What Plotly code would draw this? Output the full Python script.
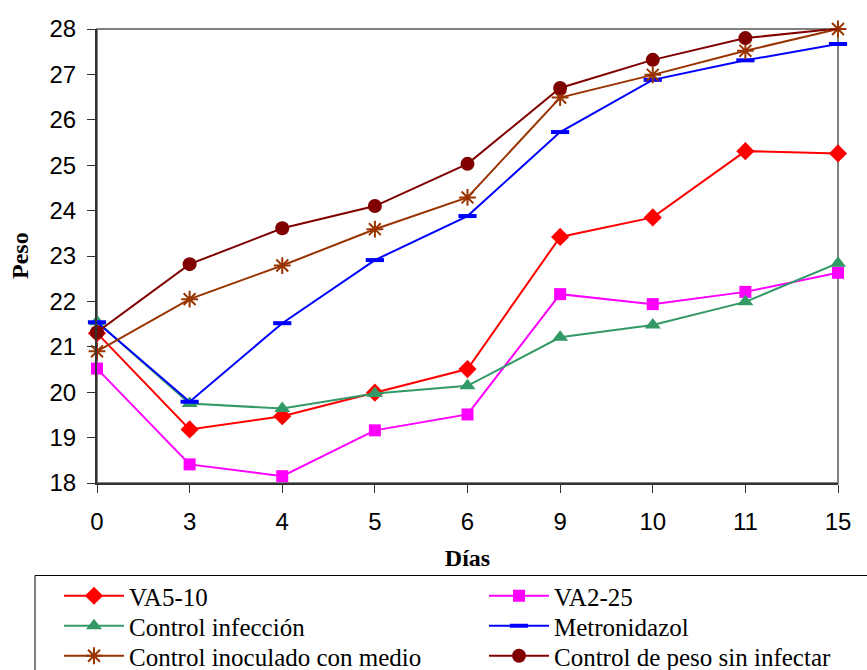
import plotly.graph_objects as go

# Días de muestreo (eje categórico)
dias = ["0", "3", "4", "5", "6", "9", "10", "11", "15"]

# Peso medio por grupo
va5_10 = [21.30, 19.18, 19.47, 19.99, 20.51, 23.42, 23.85, 25.31, 25.26]
va2_25 = [20.52, 18.41, 18.15, 19.16, 19.51, 22.16, 21.94, 22.21, 22.63]
control_infeccion = [21.55, 19.75, 19.64, 19.97, 20.14, 21.21, 21.48, 21.99, 22.84]
metronidazol = [21.54, 19.79, 21.52, 22.91, 23.88, 25.73, 26.88, 27.31, 27.67]
control_inoculado = [20.90, 22.05, 22.79, 23.59, 24.29, 26.49, 26.99, 27.52, 28.00]
control_sin_infectar = [21.32, 22.82, 23.61, 24.10, 25.03, 26.70, 27.32, 27.80, 28.01]

y_ticks = [18, 19, 20, 21, 22, 23, 24, 25, 26, 27, 28]

# nombre, valores, color, marcador
series = [
    ("VA5-10", va5_10, "#FF0000", dict(symbol="diamond", size=14)),
    ("VA2-25", va2_25, "#FF00FF", dict(symbol="square", size=12)),
    ("Control infección", control_infeccion, "#339966", dict(symbol="triangle-up", size=14)),
    ("Metronidazol", metronidazol, "#0000FF", dict(symbol="line-ew", size=13)),
    ("Control inoculado con medio", control_inoculado, "#993300", dict(symbol="asterisk", size=14)),
    ("Control de peso sin infectar", control_sin_infectar, "#800000", dict(symbol="circle", size=14)),
]

SERIF = "Liberation Serif"
SANS = "Liberation Sans"

# Cada entrada de la leyenda en su propia caja: dos columnas, tres filas
legend_cols_px = [59, 484]
legend_rows_px = [573, 603, 633]

fig = go.Figure()
legend_layouts = {}
for i, (name, vals, color, mk) in enumerate(series):
    leg_id = "legend" if i == 0 else f"legend{i + 1}"
    marker = dict(color=color, **mk)
    if mk["symbol"] in ("line-ew", "asterisk"):
        marker["line"] = dict(color=color, width=4 if mk["symbol"] == "line-ew" else 2)
    else:
        marker["line"] = dict(width=0)
    fig.add_trace(go.Scatter(
        x=dias, y=vals, name=name, mode="lines+markers", legend=leg_id,
        line=dict(color=color, width=2), marker=marker, cliponaxis=False,
    ))
    legend_layouts[leg_id] = dict(
        x=legend_cols_px[i % 2] / 867, y=1 - legend_rows_px[i // 2] / 670,
        orientation="v", xref="container", yref="container",
        xanchor="left", yanchor="top", itemwidth=60,
        font=dict(family=SERIF, size=25, color="black"),
        borderwidth=0, bgcolor="rgba(0,0,0,0)",
    )

# Marco gris superior y derecho del área de trazado
fig.add_shape(type="rect", xref="paper", yref="paper", x0=0, x1=1, y0=0, y1=1,
              line=dict(color="#808080", width=2), layer="below")

# Recuadro de la leyenda (se prolonga fuera de la figura)
fig.add_shape(type="rect", xref="paper", yref="paper",
              x0=(35 - 97) / 741, x1=1.2, y0=-0.6, y1=(483 - 575.5) / 454,
              line=dict(color="black", width=1), layer="above")

# Título del eje vertical
fig.add_annotation(
    text="<b>Peso</b>", xref="paper", yref="paper",
    x=(20 - 97) / 741, y=0.5, xanchor="center", yanchor="middle",
    textangle=-90, showarrow=False,
    font=dict(family=SERIF, size=24, color="black"),
)

fig.update_layout(
    width=867, height=670,
    margin=dict(l=97, r=29, t=29, b=187, autoexpand=False),
    paper_bgcolor="white", plot_bgcolor="white",
    font=dict(family=SERIF, color="black"),
    showlegend=True,
    **legend_layouts,
    xaxis=dict(
        type="category", range=[0, len(dias) - 1],
        showline=True, linecolor="#333333", linewidth=2,
        ticks="outside", ticklen=8, tickcolor="#333333", tickwidth=1,
        showgrid=False, zeroline=False,
        ticklabelstandoff=8,
        tickfont=dict(family=SANS, size=24, color="black"),
        title=dict(text="<b>Días</b>",
                   font=dict(family=SERIF, size=24, color="black")),
    ),
    yaxis=dict(
        range=[18, 28], tickvals=y_ticks,
        showline=True, linecolor="#333333", linewidth=2,
        ticks="outside", ticklen=8, tickcolor="#333333", tickwidth=1,
        showgrid=False, zeroline=False,
        ticklabelstandoff=6,
        tickfont=dict(family=SANS, size=24, color="black"),
    ),
)

fig.write_html("out.html")
